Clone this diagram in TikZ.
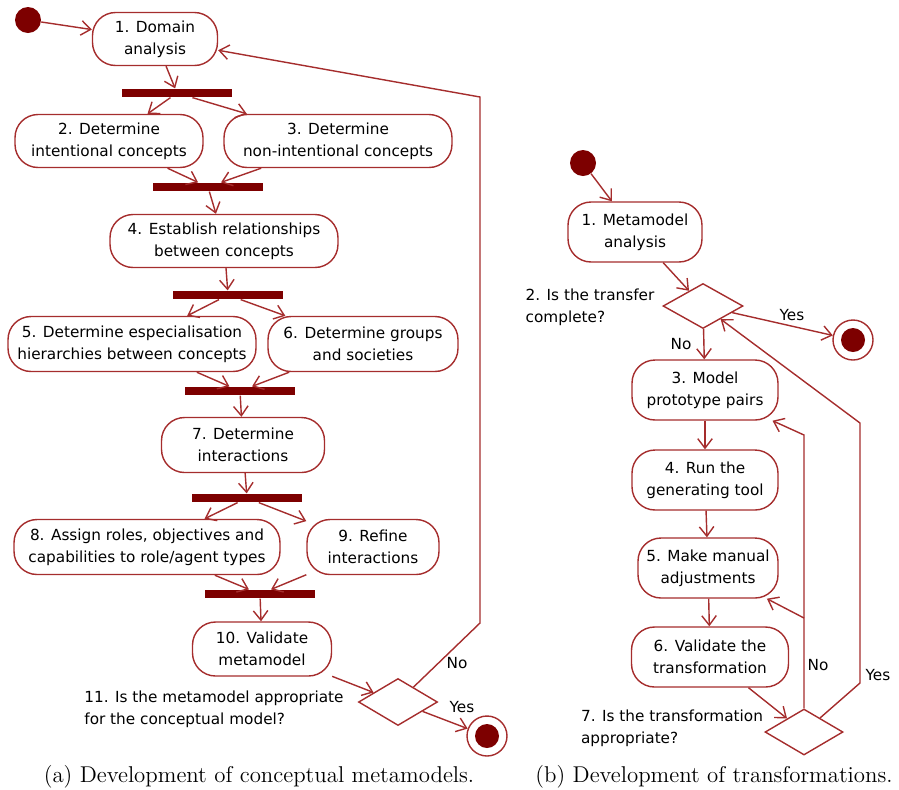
\documentclass[tikz,border=0pt]{standalone}
\usepackage{fontspec}
\newfontfamily\diafont{DejaVu Sans}
\usetikzlibrary{positioning,calc,shapes.geometric,arrows.meta}
\definecolor{uline}{RGB}{165,45,45}
\definecolor{ufill}{RGB}{125,0,0}
\tikzset{block/.style={draw=uline,line width=0.8pt,rounded corners=0.46cm,minimum height=1.06cm,align=center,inner xsep=2pt,font=\diafont\fontsize{8.7}{12.5}\selectfont},
         line/.style={draw=uline,line width=0.8pt,-{Straight Barb[length=1.9mm,width=2.9mm]}},
         bar/.style={fill=ufill,minimum width=2.2cm,minimum height=0.17cm,inner sep=0pt},
         start/.style={circle,fill=ufill,minimum size=0.52cm,inner sep=0pt},
         stop/.style={circle,draw=uline,line width=0.8pt,minimum size=0.8cm,inner sep=0pt,
                      path picture={\fill[ufill] (path picture bounding box.center) circle (0.24cm);}},
         decision/.style={diamond,draw=uline,line width=0.8pt,minimum width=1.58cm,minimum height=0.94cm,inner sep=0pt},
         lbl/.style={align=left,inner sep=0pt,font=\diafont\fontsize{8.7}{12.5}\selectfont},
         caption/.style={inner sep=0pt,font=\fontsize{13}{15}\selectfont}
}

\begin{document}
\begin{tikzpicture}[x=0.02cm,y=-0.02cm]
  \useasboundingbox (0,0) rectangle (899,789);
  % (a) conceptual metamodels
  \node[start] (s1) at (28,20) {};
  \node[block,minimum width=2.5cm] (n1) at (155,39) {1. Domain\\analysis};
  \node[bar] (b1) at (177,93) {};
  \node[block,minimum width=3.76cm] (n2) at (109,141) {2. Determine\\intentional concepts};
  \node[block,minimum width=4.56cm] (n3) at (338,141) {3. Determine\\non-intentional concepts};
  \node[bar] (b2) at (208,187) {};
  \node[block,minimum width=4.56cm] (n4) at (224,241) {4. Establish relationships\\between concepts};
  \node[bar] (b3) at (228,295) {};
  \node[block,minimum width=4.96cm,minimum height=1.1cm] (n5) at (132,344) {5. Determine especialisation\\hierarchies between concepts};
  \node[block,minimum width=3.8cm,minimum height=1.1cm] (n6) at (363,344) {6. Determine groups\\and societies};
  \node[bar] (b4) at (240,391) {};
  \node[block,minimum width=3.26cm,minimum height=1.1cm] (n7) at (243,445) {7. Determine\\interactions};
  \node[bar] (b5) at (247,498) {};
  \node[block,minimum width=5.32cm,minimum height=1.1cm] (n8) at (147,547) {8. Assign roles, objectives and\\capabilities to role/agent types};
  \node[block,minimum width=2.64cm,minimum height=1.1cm] (n9) at (373,547) {9. Refine\\interactions};
  \node[bar] (b6) at (260,594) {};
  \node[block,minimum width=2.78cm,minimum height=1.08cm] (n10) at (262,649) {10. Validate\\metamodel};
  \node[decision] (d1) at (398,702) {};
  \node[lbl] (q1) at (214,709) {11. Is the metamodel appropriate\\for the conceptual model?};
  \node[stop] (e1) at (487,736) {};
  \node[lbl] (no1) at (457,663) {No};
  \node[lbl] (yes1) at (462,707) {Yes};
  \coordinate (la) at (480,623);
  \coordinate (lb) at (480,97);
  \draw[line] (s1) -- (n1);
  \draw[line] (n1) -- (b1);
  \draw[line] (b1) -- (n2);
  \draw[line] (b1) -- (n3);
  \draw[line] (n2) -- (b2);
  \draw[line] (n3) -- (b2);
  \draw[line] (b2) -- (n4);
  \draw[line] (n4) -- (b3);
  \draw[line] (b3) -- (n5);
  \draw[line] (b3) -- (n6);
  \draw[line] (n5) -- (b4);
  \draw[line] (n6) -- (b4);
  \draw[line] (b4) -- (n7);
  \draw[line] (n7) -- (b5);
  \draw[line] (b5) -- (n8);
  \draw[line] (b5) -- (n9);
  \draw[line] (n8) -- (b6);
  \draw[line] (n9) -- (b6);
  \draw[line] (b6) -- (n10);
  \draw[line] (n10) -- (d1);
  \draw[line] (d1) -- (e1);
  \draw[line] (d1) -- (la) -- (lb) -- (n1);
  % (b) transformations
  \node[start] (s2) at (583,163) {};
  \node[block,minimum width=2.68cm,minimum height=1.2cm] (r1) at (635,232) {1. Metamodel\\analysis};
  \node[decision,minimum width=1.6cm,minimum height=0.9cm] (d2) at (703,306) {};
  \node[lbl] (q2) at (590,307) {2. Is the transfer\\complete?};
  \node[stop] (e2) at (853,340) {};
  \node[block,minimum width=2.92cm,minimum height=1.2cm] (r3) at (705,390) {3. Model\\prototype pairs};
  \node[block,minimum width=2.92cm,minimum height=1.2cm] (r4) at (705,480) {4. Run the\\generating tool};
  \node[block,minimum width=2.8cm,minimum height=1.2cm] (r5) at (708,568) {5. Make manual\\adjustments};
  \node[block,minimum width=3.14cm,minimum height=1.2cm] (r6) at (710,657) {6. Validate the\\transformation};
  \node[decision,minimum width=1.56cm,minimum height=0.92cm] (d3) at (804,732) {};
  \node[lbl] (q3) at (672,728) {7. Is the transformation\\appropriate?};
  \node[lbl] (yes2) at (792,315) {Yes};
  \node[lbl] (no2) at (681,344) {No};
  \node[lbl] (no3) at (818,665) {No};
  \node[lbl] (yes3) at (878,675) {Yes};
  \coordinate (na) at (804,618);
  \coordinate (nb) at (804,435);
  \coordinate (ya) at (860,683);
  \coordinate (yb) at (860,423);
  \draw[line] (s2) -- (r1);
  \draw[line] (r1) -- (d2);
  \draw[line] (d2) -- (e2);
  \draw[line] (d2) -- (r3);
  \draw[line] (r3) -- (r4);
  \draw[line] (r4) -- (r5);
  \draw[line] (r5) -- (r6);
  \draw[line] (r6) -- (d3);
  \draw[line] (d3) -- (nb) -- (r3);
  \draw[line] (na) -- (r5);
  \draw[line] (d3) -- (ya) -- (yb) -- (d2);
  \node[caption] (ca) at (259,777) {(a) Development of conceptual metamodels.};
  \node[caption] (cb) at (714,777) {(b) Development of transformations.};
\end{tikzpicture}
\end{document}
